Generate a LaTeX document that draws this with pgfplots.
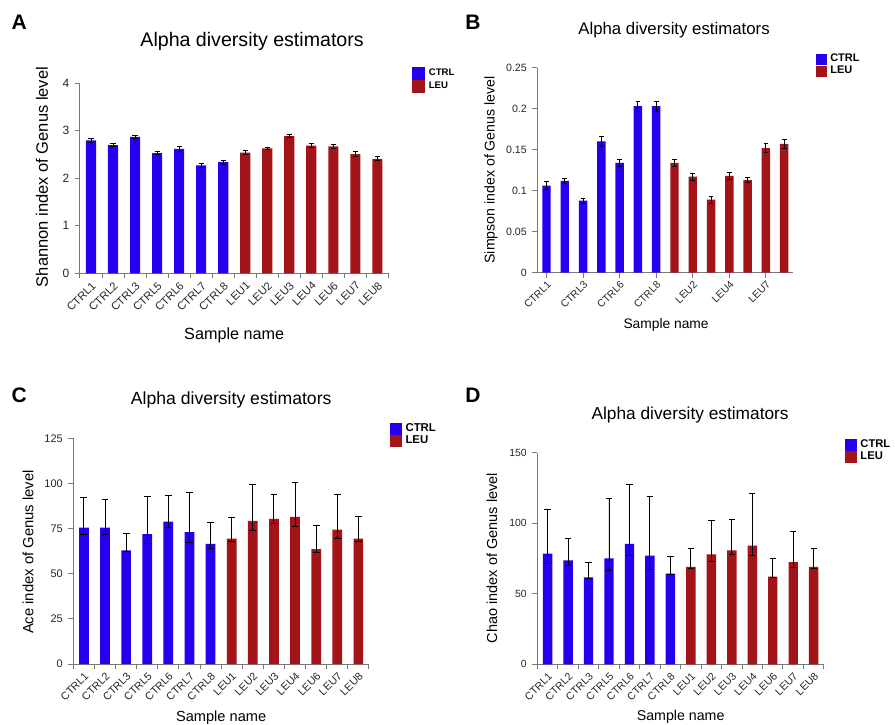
\documentclass[border=0pt]{standalone}
\usepackage{fontspec}
\setmainfont{Liberation Sans}
\usepackage{pgfplots}
\pgfplotsset{compat=1.18}
\definecolor{ctrlblue}{RGB}{36,0,238}
\definecolor{leured}{RGB}{163,20,24}
\definecolor{axgray}{RGB}{120,120,120}
\pgfplotsset{
  panel/.style={
    scale only axis,
    axis x line*=bottom, axis y line*=left,
    axis line style={draw=axgray, line width=0.5pt},
    tick align=outside,
    major tick length=2.5pt, minor tick length=2.5pt,
    tick style={draw=axgray, line width=0.5pt},
    xmin=-0.5, xmax=13.5, ymin=0,
    /pgf/number format/assume math mode=true,
    scaled y ticks=false,
    xticklabel style={rotate=45, anchor=north east, inner sep=0.8pt, text=black!85},
    yticklabel style={text=black!85, inner sep=2.6pt},
    legend cell align=left,
    legend style={draw=none, fill=none, inner sep=0pt, row sep=0pt, column sep=1.5pt,
      anchor=north west, nodes={inner sep=0.3pt}},
    title style={anchor=center},
    ylabel style={anchor=center},
    xlabel style={anchor=center},
  },
  allticks/.style={
    xtick={0,...,13},
    xticklabels={CTRL1,CTRL2,CTRL3,CTRL5,CTRL6,CTRL7,CTRL8,LEU1,LEU2,LEU3,LEU4,LEU6,LEU7,LEU8},
    major x tick style={draw=none},
    minor xtick={-0.5,0.5,...,13.5},
  },
  barc/.style={ybar, bar width=0.46, bar shift=0pt, fill=ctrlblue, draw=none},
  barl/.style={ybar, bar width=0.46, bar shift=0pt, fill=leured, draw=none},
  errs/.style={error bars/.cd, y dir=both, y explicit,
    error bar style={black, line width=0.45pt},
    error mark options={rotate=90, mark size=#1, black, line width=0.45pt}},
}
\newcommand{\fs}[1]{\fontsize{#1}{#1}\selectfont}
\pgfplotstableread{
x y ep em
0 2.80 0.045 0.045
1 2.70 0.035 0.035
2 2.87 0.025 0.025
3 2.53 0.025 0.025
4 2.62 0.045 0.045
5 2.27 0.040 0.040
6 2.34 0.040 0.040
}\Actrl
\pgfplotstableread{
x y ep em
7 2.54 0.040 0.040
8 2.63 0.025 0.025
9 2.89 0.025 0.025
10 2.69 0.045 0.045
11 2.67 0.045 0.045
12 2.51 0.045 0.045
13 2.41 0.040 0.040
}\Aleu
\pgfplotstableread{
x y ep em
0 0.106 0.005 0.005
1 0.112 0.003 0.003
2 0.088 0.003 0.003
3 0.160 0.006 0.006
4 0.134 0.004 0.004
5 0.203 0.006 0.006
6 0.203 0.006 0.006
}\Bctrl
\pgfplotstableread{
x y ep em
7 0.134 0.004 0.004
8 0.117 0.004 0.004
9 0.089 0.004 0.004
10 0.118 0.004 0.004
11 0.113 0.003 0.003
12 0.152 0.005 0.005
13 0.157 0.005 0.005
}\Bleu
\pgfplotstableread{
x y ep em
0 75.6 16.8 3.9
1 75.6 15.5 3.9
2 62.9 9.4 0.5
3 71.9 21.0 5.0
4 78.9 14.6 3.3
5 73.0 22.0 5.7
6 66.5 11.7 2.5
}\Cctrl
\pgfplotstableread{
x y ep em
7 69.5 11.8 1.5
8 79.3 20.4 5.4
9 80.4 13.5 2.8
10 81.5 19.3 5.2
11 63.6 12.9 1.7
12 74.5 19.5 5.0
13 69.5 12.5 1.5
}\Cleu
\pgfplotstableread{
x y ep em
0 78.4 31.1 6.6
1 73.7 15.8 3.3
2 61.6 10.5 0.5
3 75.1 42.8 8.4
4 85.4 42.2 8.4
5 77.0 42.3 9.6
6 64.2 12.5 0.5
}\Dctrl
\pgfplotstableread{
x y ep em
7 69.0 13.1 1.4
8 77.9 24.4 4.9
9 80.7 22.3 3.0
10 84.2 36.9 7.2
11 62.1 12.8 0.5
12 72.5 21.6 3.9
13 69.0 13.3 1.4
}\Dleu
\begin{document}
\begin{tikzpicture}
\useasboundingbox (0,0) rectangle (447.5pt,362pt);
% panel letters
\node[inner sep=0pt, font=\bfseries\fs{10.5}] at (9.65pt,350.75pt) {A};
\node[inner sep=0pt, font=\bfseries\fs{10.5}] at (236.5pt,350.75pt) {B};
\node[inner sep=0pt, font=\bfseries\fs{10.5}] at (9.65pt,164.2pt) {C};
\node[inner sep=0pt, font=\bfseries\fs{10.5}] at (236.5pt,164.2pt) {D};

% ---------- A ----------
\begin{axis}[panel, allticks,
  at={(40pt,225.35pt)}, anchor=south west,
  width=154.2pt, height=95pt,
  ymax=4, ytick={0,1,2,3,4},
  xticklabel style={font=\fs{5.6}},
  yticklabel style={font=\fs{6}},
  title={Alpha diversity estimators}, title style={font=\fs{9.8}, at={(axis description cs:0.558,1.159)}},
  ylabel={Shannon index of Genus level}, ylabel style={font=\fs{8.25}, at={(axis description cs:-0.123,0.507)}},
  xlabel={Sample name}, xlabel style={font=\fs{8.1}, at={(axis description cs:0.5,-0.325)}},
  legend style={at={(axis description cs:1.076,1.087)}, font=\bfseries\fs{4.8}},
  legend image code/.code={\fill[#1] (0pt,-3.25pt) rectangle (6.5pt,3.25pt);},
]
\addplot[barc, errs=1.3pt] table[x=x,y=y,y error plus=ep,y error minus=em] {\Actrl};
\addlegendentry{CTRL}
\addplot[barl, errs=1.3pt] table[x=x,y=y,y error plus=ep,y error minus=em] {\Aleu};
\addlegendentry{LEU}
\end{axis}

% ---------- B ----------
\begin{axis}[panel,
  at={(268.67pt,225.67pt)}, anchor=south west,
  width=128pt, height=102.5pt,
  ymax=0.25, ytick={0,0.05,0.1,0.15,0.2,0.25},
  yticklabels={0,0.05,0.1,0.15,0.2,0.25},
  xtick={0,2,...,12},
  xticklabels={CTRL1,CTRL3,CTRL6,CTRL8,LEU2,LEU4,LEU7},
  xticklabel style={font=\fs{5.2}},
  yticklabel style={font=\fs{5.3}},
  title={Alpha diversity estimators}, title style={font=\fs{8.4}, at={(axis description cs:0.534,1.122)}},
  ylabel={Simpson index of Genus level}, ylabel style={font=\fs{7.07}, at={(axis description cs:-0.181,0.501)}},
  xlabel={Sample name}, xlabel style={font=\fs{6.9}, at={(axis description cs:0.503,-0.255)}},
  legend style={at={(axis description cs:1.085,1.070)}, font=\bfseries\fs{5.5}},
  legend image code/.code={\fill[#1] (0pt,-2.9pt) rectangle (5.6pt,2.9pt);},
]
\addplot[barc, errs=1.2pt] table[x=x,y=y,y error plus=ep,y error minus=em] {\Bctrl};
\addlegendentry{CTRL}
\addplot[barl, errs=1.2pt] table[x=x,y=y,y error plus=ep,y error minus=em] {\Bleu};
\addlegendentry{LEU}
\end{axis}

% ---------- C ----------
\begin{axis}[panel, allticks,
  at={(36.67pt,30pt)}, anchor=south west,
  width=147.8pt, height=112.8pt,
  ymax=125, ytick={0,25,50,75,100,125},
  xticklabel style={font=\fs{5.4}},
  yticklabel style={font=\fs{5.5}},
  title={Alpha diversity estimators}, title style={font=\fs{8.8}, at={(axis description cs:0.534,1.118)}},
  ylabel={Ace index of Genus level}, ylabel style={font=\fs{7.4}, at={(axis description cs:-0.153,0.496)}},
  xlabel={Sample name}, xlabel style={font=\fs{7.3}, at={(axis description cs:0.5,-0.239)}},
  legend style={at={(axis description cs:1.071,1.069)}, font=\bfseries\fs{5.7}},
  legend image code/.code={\fill[#1] (0pt,-3pt) rectangle (5.8pt,3pt);},
]
\addplot[barc, errs=1.7pt] table[x=x,y=y,y error plus=ep,y error minus=em] {\Cctrl};
\addlegendentry{CTRL}
\addplot[barl, errs=1.7pt] table[x=x,y=y,y error plus=ep,y error minus=em] {\Cleu};
\addlegendentry{LEU}
\end{axis}

% ---------- D ----------
\begin{axis}[panel, allticks,
  at={(268.67pt,29.85pt)}, anchor=south west,
  width=143.3pt, height=105.8pt,
  ymax=150, ytick={0,50,100,150},
  xticklabel style={font=\fs{5.3}},
  yticklabel style={font=\fs{5.2}},
  title={Alpha diversity estimators}, title style={font=\fs{8.65}, at={(axis description cs:0.533,1.122)}},
  ylabel={Chao index of Genus level}, ylabel style={font=\fs{7.25}, at={(axis description cs:-0.158,0.502)}},
  xlabel={Sample name}, xlabel style={font=\fs{7.1}, at={(axis description cs:0.5,-0.249)}},
  legend style={at={(axis description cs:1.073,1.068)}, font=\bfseries\fs{5.6}},
  legend image code/.code={\fill[#1] (0pt,-2.95pt) rectangle (5.8pt,2.95pt);},
]
\addplot[barc, errs=1.6pt] table[x=x,y=y,y error plus=ep,y error minus=em] {\Dctrl};
\addlegendentry{CTRL}
\addplot[barl, errs=1.6pt] table[x=x,y=y,y error plus=ep,y error minus=em] {\Dleu};
\addlegendentry{LEU}
\end{axis}
\end{tikzpicture}
\end{document}
